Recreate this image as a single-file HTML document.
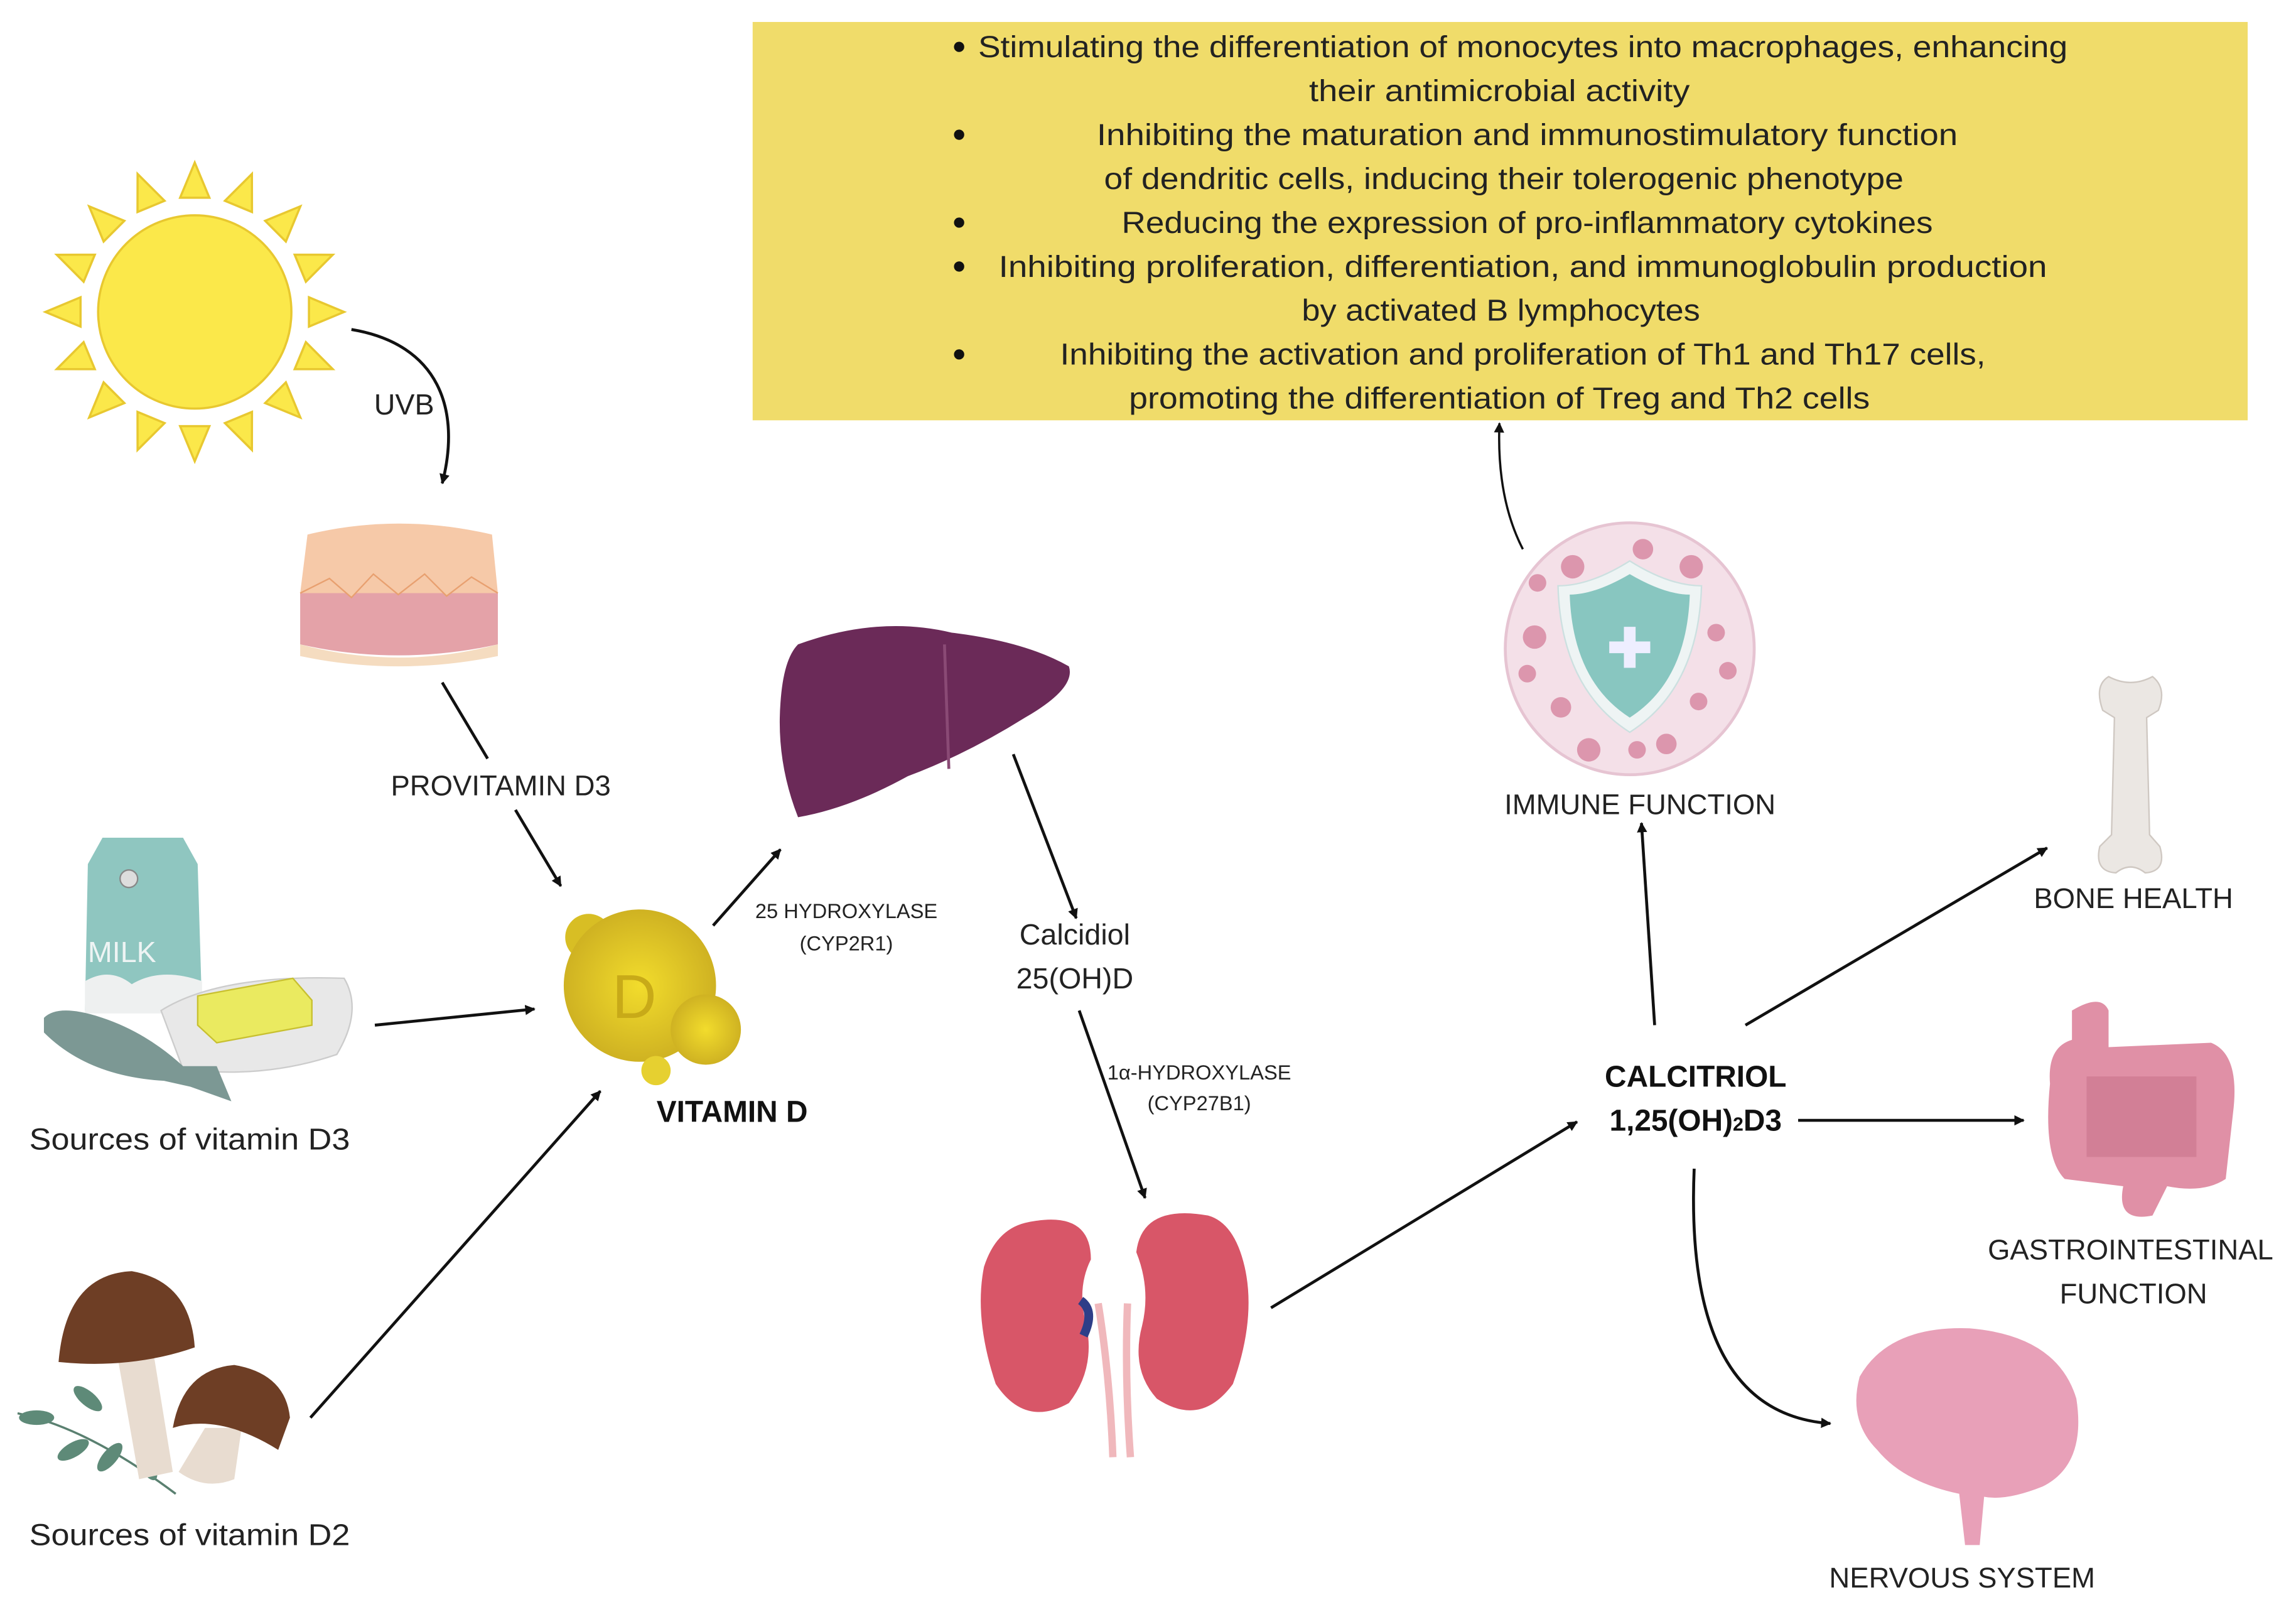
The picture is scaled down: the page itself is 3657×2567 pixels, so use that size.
<!DOCTYPE html>
<html><head><meta charset="utf-8"><style>
html,body{margin:0;padding:0;background:#fff;}
svg{display:block;}
text{font-family:"Liberation Sans",sans-serif;fill:#222;}
</style></head><body>
<svg width="3657" height="2567" viewBox="0 0 1568 1100.7" preserveAspectRatio="none" xmlns="http://www.w3.org/2000/svg">
<defs>
<marker id="a" viewBox="0 0 10 10" refX="9" refY="5" markerWidth="7" markerHeight="7" orient="auto-start-reverse" markerUnits="userSpaceOnUse"><path d="M0,0 L10,5 L0,10 z" fill="#111"/></marker>
<radialGradient id="vg" cx="0.5" cy="0.5" r="0.5"><stop offset="0" stop-color="#f2dc2c"/><stop offset="1" stop-color="#cfb222"/></radialGradient>
</defs>
<rect width="1568" height="1101" fill="#fff"/>
<!-- yellow box -->
<rect x="514" y="15" width="1021" height="272" fill="#f0dc6a"/>
<g font-size="20.5" text-anchor="middle">
<text x="1040" y="39" textLength="744" lengthAdjust="spacingAndGlyphs">Stimulating the differentiation of monocytes into macrophages, enhancing</text>
<text x="1024" y="69" textLength="260" lengthAdjust="spacingAndGlyphs">their antimicrobial activity</text>
<text x="1043" y="99" textLength="588" lengthAdjust="spacingAndGlyphs">Inhibiting the maturation and immunostimulatory function</text>
<text x="1027" y="129" textLength="546" lengthAdjust="spacingAndGlyphs">of dendritic cells, inducing their tolerogenic phenotype</text>
<text x="1043" y="159" textLength="554" lengthAdjust="spacingAndGlyphs">Reducing the expression of pro-inflammatory cytokines</text>
<text x="1040" y="189" textLength="716" lengthAdjust="spacingAndGlyphs">Inhibiting proliferation, differentiation, and immunoglobulin production</text>
<text x="1025" y="219" textLength="272" lengthAdjust="spacingAndGlyphs">by activated B lymphocytes</text>
<text x="1040" y="249" textLength="632" lengthAdjust="spacingAndGlyphs">Inhibiting the activation and proliferation of Th1 and Th17 cells,</text>
<text x="1024" y="279" textLength="506" lengthAdjust="spacingAndGlyphs">promoting the differentiation of Treg and Th2 cells</text>
</g>
<g fill="#111"><circle cx="655" cy="32" r="3.5"/><circle cx="655" cy="92" r="3.5"/><circle cx="655" cy="152" r="3.5"/><circle cx="655" cy="182" r="3.5"/><circle cx="655" cy="242" r="3.5"/></g>

<!-- sun -->
<g fill="#fbe84a" stroke="#e8c830" stroke-width="1.5">
<g transform="translate(133,213)">
<g id="ray"><polygon points="-10,-78 10,-78 0,-102"/></g>
<use href="#ray" transform="rotate(22.5)"/><use href="#ray" transform="rotate(45)"/><use href="#ray" transform="rotate(67.5)"/>
<use href="#ray" transform="rotate(90)"/><use href="#ray" transform="rotate(112.5)"/><use href="#ray" transform="rotate(135)"/>
<use href="#ray" transform="rotate(157.5)"/><use href="#ray" transform="rotate(180)"/><use href="#ray" transform="rotate(202.5)"/>
<use href="#ray" transform="rotate(225)"/><use href="#ray" transform="rotate(247.5)"/><use href="#ray" transform="rotate(270)"/>
<use href="#ray" transform="rotate(292.5)"/><use href="#ray" transform="rotate(315)"/><use href="#ray" transform="rotate(337.5)"/>
<circle r="66"/>
</g></g>
<path d="M240,225 C300,235 315,280 302,330" fill="none" stroke="#111" stroke-width="2" marker-end="url(#a)"/>
<text x="276" y="283" font-size="20" text-anchor="middle">UVB</text>

<!-- skin -->
<path d="M210,365 Q272,350 336,365 L340,405 L205,405 Z" fill="#f6c9a8"/>
<path d="M205,405 L340,405 L340,440 Q272,455 205,440 Z" fill="#e4a2a8"/>
<path d="M205,405 L225,395 L240,408 L255,392 L272,406 L290,392 L305,407 L322,394 L340,405" fill="#f6c9a8" stroke="#e8a070"/>
<path d="M205,440 Q272,458 340,440 L340,448 Q272,462 205,448 Z" fill="#f5dcc0"/>

<line x1="302" y1="466" x2="333" y2="518" stroke="#111" stroke-width="2"/>
<line x1="352" y1="553" x2="383" y2="605" stroke="#111" stroke-width="2" marker-end="url(#a)"/>
<text x="342" y="543" font-size="19.5" text-anchor="middle">PROVITAMIN D3</text>

<!-- milk, fish, butter -->
<path d="M60,590 L70,572 L125,572 L135,590 L138,690 L58,690 Z" fill="#8fc6c0"/>
<path d="M58,670 Q75,660 90,672 Q110,660 138,670 L138,692 L58,692 Z" fill="#eef0f0"/>
<text x="60" y="657" font-size="20" style="fill:#eef4f4">MILK</text>
<circle cx="88" cy="600" r="6" fill="#ddd" stroke="#888"/>
<path d="M110,690 Q150,665 235,668 Q248,690 230,720 Q180,737 125,730 Z" fill="#e8e8e8" stroke="#ccc"/>
<path d="M135,680 L200,668 L213,683 L213,700 L148,712 L135,700 Z" fill="#eaea60" stroke="#c8c030"/>
<path d="M30,695 Q40,685 70,695 Q100,705 125,728 L148,728 L158,752 L130,742 L112,738 Q60,735 30,705 Z" fill="#7c9894"/>
<text x="20" y="785" font-size="20.5" textLength="219" lengthAdjust="spacingAndGlyphs">Sources of vitamin D3</text>
<line x1="256" y1="700" x2="365" y2="689" stroke="#111" stroke-width="2" marker-end="url(#a)"/>

<!-- mushrooms -->
<path d="M12,965 Q60,975 120,1020" stroke="#5a8070" stroke-width="1.5" fill="none"/>
<g fill="#5e8a78"><ellipse cx="25" cy="968" rx="12" ry="5"/><ellipse cx="50" cy="990" rx="12" ry="5" transform="rotate(-30 50 990)"/><ellipse cx="75" cy="995" rx="12" ry="5" transform="rotate(-50 75 995)"/><ellipse cx="60" cy="955" rx="12" ry="5" transform="rotate(40 60 955)"/><ellipse cx="100" cy="1000" rx="12" ry="5" transform="rotate(60 100 1000)"/></g>
<path d="M80,925 L105,925 L118,1005 L95,1010 Z" fill="#e8dcd0"/>
<path d="M40,930 Q45,870 90,868 Q130,875 133,920 Q90,935 40,930 Z" fill="#6e3e25"/>
<path d="M140,975 L165,975 L160,1010 Q140,1018 122,1005 Z" fill="#e8dcd0"/>
<path d="M118,975 Q125,935 160,932 Q195,938 198,968 L190,990 Q150,965 118,975 Z" fill="#6e3e25"/>
<text x="20" y="1055" font-size="20.5" textLength="219" lengthAdjust="spacingAndGlyphs">Sources of vitamin D2</text>
<line x1="212" y1="968" x2="410" y2="745" stroke="#111" stroke-width="2" marker-end="url(#a)"/>

<!-- vitamin D -->
<circle cx="402" cy="640" r="16" fill="#d8be24"/>
<circle cx="437" cy="673" r="52" fill="url(#vg)"/>
<circle cx="482" cy="703" r="24" fill="url(#vg)"/>
<circle cx="448" cy="731" r="10" fill="#e6d030"/>
<text x="418" y="695" font-size="42" style="fill:#c8aa18">D</text>
<text x="500" y="766" font-size="20.5" font-weight="bold" text-anchor="middle" style="fill:#111">VITAMIN D</text>
<line x1="487" y1="632" x2="533" y2="580" stroke="#111" stroke-width="2" marker-end="url(#a)"/>
<text x="578" y="627" font-size="14" text-anchor="middle">25 HYDROXYLASE</text>
<text x="578" y="649" font-size="14" text-anchor="middle">(CYP2R1)</text>

<!-- liver -->
<path d="M545,440 Q600,420 650,432 Q700,438 730,455 Q735,470 700,490 Q660,515 620,530 Q580,552 545,558 Q530,520 533,480 Q535,450 545,440 Z" fill="#6b2a58"/>
<path d="M645,440 L648,525" stroke="#8a4a75" stroke-width="2"/>
<line x1="692" y1="515" x2="735" y2="627" stroke="#111" stroke-width="2" marker-end="url(#a)"/>
<text x="734" y="645" font-size="20" text-anchor="middle">Calcidiol</text>
<text x="734" y="675" font-size="20" text-anchor="middle">25(OH)D</text>
<line x1="737" y1="690" x2="782" y2="818" stroke="#111" stroke-width="2" marker-end="url(#a)"/>
<text x="819" y="737" font-size="14" text-anchor="middle">1α-HYDROXYLASE</text>
<text x="819" y="758" font-size="14" text-anchor="middle">(CYP27B1)</text>

<!-- kidneys -->
<path d="M750,890 Q758,940 760,995 M770,890 Q768,940 772,995" stroke="#f0b8bc" stroke-width="5" fill="none"/>
<path d="M700,835 Q745,825 745,860 Q735,880 742,905 Q748,935 730,958 Q700,975 680,945 Q665,900 672,865 Q680,840 700,835 Z" fill="#d85668"/>
<path d="M825,830 Q780,822 776,855 Q786,880 780,905 Q772,935 790,955 Q820,975 842,945 Q858,900 850,865 Q843,835 825,830 Z" fill="#d85668"/>
<path d="M738,888 Q748,895 740,912" stroke="#2e3e88" stroke-width="6" fill="none"/>
<line x1="868" y1="893" x2="1077" y2="766" stroke="#111" stroke-width="2" marker-end="url(#a)"/>

<!-- calcitriol -->
<text x="1158" y="742" font-size="20.5" font-weight="bold" text-anchor="middle" style="fill:#111">CALCITRIOL</text>
<text x="1158" y="772" font-size="20.5" font-weight="bold" text-anchor="middle" style="fill:#111">1,25(OH)<tspan font-size="13">2</tspan>D3</text>

<!-- immune -->
<path d="M1040,375 Q1022,340 1024,289" fill="none" stroke="#111" stroke-width="1.5" marker-end="url(#a)"/>
<ellipse cx="1113" cy="443" rx="85" ry="86" fill="#f4e0e8" stroke="#e6c4d2" stroke-width="2"/>
<g fill="#dc96ad"><circle cx="1074" cy="387" r="8"/><circle cx="1122" cy="375" r="7"/><circle cx="1155" cy="387" r="8"/><circle cx="1050" cy="398" r="6"/><circle cx="1048" cy="435" r="8"/><circle cx="1043" cy="460" r="6"/><circle cx="1172" cy="432" r="6"/><circle cx="1180" cy="458" r="6"/><circle cx="1066" cy="483" r="7"/><circle cx="1160" cy="479" r="6"/><circle cx="1085" cy="512" r="8"/><circle cx="1118" cy="512" r="6"/><circle cx="1138" cy="508" r="7"/></g>
<path d="M1113,383 Q1140,400 1162,400 Q1160,470 1113,500 Q1066,470 1064,400 Q1086,400 1113,383 Z" fill="#eef4f4" stroke="#cce0e0"/>
<path d="M1113,392 Q1137,406 1154,406 Q1152,465 1113,490 Q1074,465 1072,406 Q1089,406 1113,392 Z" fill="#88c6c0"/>
<rect x="1109" y="428" width="8" height="28" fill="#eef"/><rect x="1099" y="438" width="28" height="8" fill="#eef"/>
<text x="1120" y="556" font-size="19.5" text-anchor="middle">IMMUNE FUNCTION</text>
<line x1="1130" y1="700" x2="1121" y2="562" stroke="#111" stroke-width="2" marker-end="url(#a)"/>

<!-- bone -->
<path d="M1440,462 Q1455,470 1470,462 Q1480,470 1474,485 L1466,490 L1468,570 L1475,578 Q1480,595 1465,596 Q1455,588 1445,596 Q1430,595 1434,578 L1442,570 L1444,490 L1436,485 Q1430,468 1440,462 Z" fill="#ebe7e3" stroke="#cfc8c2"/>
<text x="1457" y="620" font-size="19.5" text-anchor="middle">BONE HEALTH</text>
<line x1="1192" y1="700" x2="1398" y2="579" stroke="#111" stroke-width="2" marker-end="url(#a)"/>

<!-- intestine -->
<path d="M1415,690 Q1435,678 1440,690 L1440,715 L1510,712 Q1530,720 1525,760 L1520,805 Q1505,815 1480,810 L1470,830 Q1445,835 1450,810 L1410,805 Q1395,790 1400,740 Q1398,715 1415,710 Z" fill="#e090a6"/>
<path d="M1425,735 L1500,735 L1500,790 L1425,790 Z" fill="#cc7890" opacity="0.7"/>
<text x="1455" y="860" font-size="19.5" text-anchor="middle">GASTROINTESTINAL</text>
<text x="1457" y="890" font-size="19.5" text-anchor="middle">FUNCTION</text>
<line x1="1228" y1="765" x2="1382" y2="765" stroke="#111" stroke-width="2" marker-end="url(#a)"/>

<!-- brain -->
<path d="M1270,940 Q1290,905 1345,907 Q1405,912 1418,955 Q1425,1000 1395,1015 Q1370,1025 1355,1022 L1352,1055 L1342,1055 L1338,1020 Q1300,1012 1282,990 Q1262,970 1270,940 Z" fill="#e8a0b8"/>
<text x="1340" y="1084" font-size="19.5" text-anchor="middle">NERVOUS SYSTEM</text>
<path d="M1157,798 Q1150,965 1250,972" fill="none" stroke="#111" stroke-width="2" marker-end="url(#a)"/>
</svg>
</body></html>
